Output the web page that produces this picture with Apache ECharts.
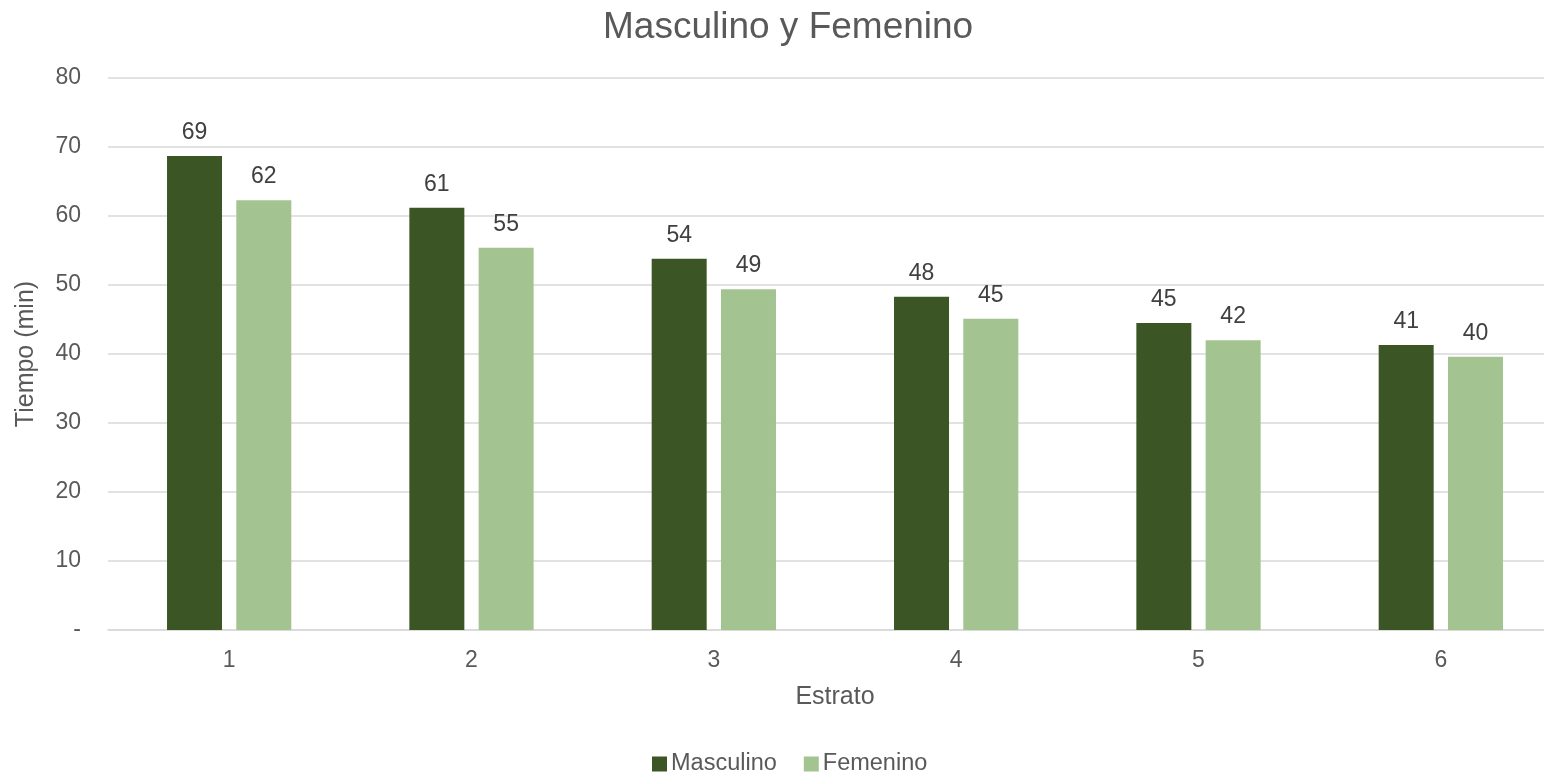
<!DOCTYPE html>
<html><head><meta charset="utf-8">
<script src="https://cdn.jsdelivr.net/npm/echarts@6/dist/echarts.min.js"></script>
<style>html,body{margin:0;padding:0;background:#fff;overflow:hidden}#c{width:1544px;height:775px}</style>
</head><body><div id="c"></div>
<script>
const categories = ['1','2','3','4','5','6'];
const masculino = [68.7, 61.2, 53.8, 48.3, 44.5, 41.3];
const femenino = [62.3, 55.4, 49.4, 45.1, 42.0, 39.6];
const seriesNames = ['Masculino', 'Femenino'];
const titleText = 'Masculino y Femenino';
const yName = 'Tiempo (min)';
const xName = 'Estrato';

const font = 'Arial, "Liberation Sans", sans-serif';
const chart = echarts.init(document.getElementById('c'));
const labelCfg = {show:true, position:'top', distance:12, color:'#404040', fontSize:23, fontFamily:font,
  formatter: p => Math.round(p.value)};
chart.setOption({
  animation:false,
  title:{text:titleText, left:598, top:4, textStyle:{color:'#595959', fontSize:37, fontWeight:'normal', fontFamily:font}},
  legend:{top:752, left:652, padding:0, icon:'rect', itemWidth:15, itemHeight:15, itemGap:27,
    textStyle:{color:'#595959', fontSize:23.5, fontFamily:font, padding:[0,0,0,-1]}, data:seriesNames},
  grid:{left:108, width:1454, top:78, bottom:145, outerBoundsMode:'none', containLabel:false},
  xAxis:{type:'category', data:categories, name:xName, nameLocation:'middle', nameGap:55,
    nameTextStyle:{color:'#595959', fontSize:25, fontFamily:font},
    axisLine:{lineStyle:{color:'#D9D9D9', width:1.5}}, axisTick:{show:false},
    axisLabel:{color:'#595959', fontSize:23, fontFamily:font, margin:19}},
  yAxis:{type:'value', min:0, max:80, interval:10, name:yName, nameLocation:'middle', nameGap:69,
    nameTextStyle:{color:'#595959', fontSize:25, fontFamily:font},
    axisLine:{show:false}, axisTick:{show:false},
    splitLine:{lineStyle:{color:'#D9D9D9', width:1.5}},
    axisLabel:{color:'#595959', fontSize:23, fontFamily:font, margin:27, formatter: v => v===0 ? '-' : v}},
  series:[
    {name:seriesNames[0], type:'bar', data:masculino, barWidth:55, barGap:'26%', itemStyle:{color:'#3B5624'}, label:labelCfg},
    {name:seriesNames[1], type:'bar', data:femenino, barWidth:55, itemStyle:{color:'#A3C490'}, label:labelCfg}
  ]
});
</script></body></html>
